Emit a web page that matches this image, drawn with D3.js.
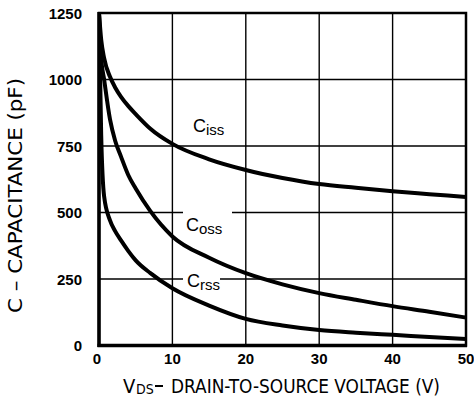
<!DOCTYPE html>
<html>
<head>
<meta charset="utf-8">
<script src="https://cdn.jsdelivr.net/npm/d3@7"></script>
<style>
  body { margin: 0; background: #fff; }
  svg { display: block; }
</style>
</head>
<body>
<svg width="474" height="397"></svg>
<script>
// values
const vds = [0, 0.3, 0.7, 1.5, 2.2, 3, 4, 5, 7, 10, 15, 20, 25, 30, 35, 40, 45, 50];
const ciss = [1250, 1150, 1080, 1010, 970, 935, 900, 870, 815, 758, 700, 660, 630, 607, 593, 580, 569, 558];
const coss = [1250, 1080, 1000, 850, 770, 710, 640, 590, 505, 410, 330, 272, 230, 197, 172, 148, 127, 105];
const crss = [1250, 790, 560, 470, 430, 395, 355, 320, 272, 215, 150, 100, 75, 58, 48, 40, 32, 24];
const xTicks = [0, 10, 20, 30, 40, 50];
const yTicks = [0, 250, 500, 750, 1000, 1250];

const svg = d3.select('svg');
const x0 = 99, x1 = 466, y0 = 345.5, y1 = 13;
const x = d3.scaleLinear().domain([0, 50]).range([x0, x1]);
const y = d3.scaleLinear().domain([0, 1250]).range([y0, y1]);
const font = 'Liberation Sans, Arial, sans-serif';
const narrow = '"Liberation Sans Narrow", "DejaVu Sans Condensed", sans-serif';

// grid
const grid = svg.append('g').attr('stroke', '#000').attr('stroke-width', 1.4);
xTicks.slice(1, -1).forEach(t => {
    grid.append('line').attr('x1', x(t)).attr('x2', x(t)).attr('y1', y1).attr('y2', y0);
});
yTicks.slice(1, -1).forEach(t => {
    grid.append('line').attr('x1', x0).attr('x2', x1).attr('y1', y(t)).attr('y2', y(t));
});

// tick labels
svg.append('g').selectAll('text').data(yTicks).join('text')
    .attr('x', 82).attr('y', d => y(d) + 5.5)
    .attr('text-anchor', 'end')
    .attr('font-family', font).attr('font-size', 15).attr('font-weight', 'bold')
    .text(d => d);
svg.append('g').selectAll('text').data(xTicks).join('text')
    .attr('x', d => x(d) - (d === 0 ? 2 : 0)).attr('y', 364)
    .attr('text-anchor', 'middle')
    .attr('font-family', font).attr('font-size', 15).attr('font-weight', 'bold')
    .text(d => d);

// curves
svg.append('clipPath').attr('id', 'plot').append('rect')
    .attr('x', x0).attr('y', y1).attr('width', x1 - x0).attr('height', y0 - y1);
const line = d3.line().x((d, i) => x(vds[i])).y(d => y(d)).curve(d3.curveMonotoneX);
[ciss, coss, crss].forEach(s => {
    svg.append('path').datum(s)
        .attr('d', line)
        .attr('fill', 'none').attr('stroke', '#000').attr('stroke-width', 4)
        .attr('clip-path', 'url(#plot)');
});

// curve labels, with gaps in the grid
svg.append('rect').attr('x', 183).attr('y', y(500) - 3).attr('width', 49).attr('height', 6).attr('fill', '#fff');
svg.append('rect').attr('x', 183).attr('y', y(250) - 3).attr('width', 37).attr('height', 6).attr('fill', '#fff');
const labels = [
    {sub: 'iss', x: 193, y: 132},
    {sub: 'oss', x: 186, y: 231},
    {sub: 'rss', x: 187, y: 287}
];
labels.forEach(l => {
    const t = svg.append('text').attr('x', l.x).attr('y', l.y)
        .attr('font-family', font).attr('font-size', 18);
    t.append('tspan').text('C');
    t.append('tspan').attr('dy', 3).attr('font-size', 15).text(l.sub);
});

// frame
svg.append('rect').attr('x', x0).attr('y', y1).attr('width', x1 - x0).attr('height', y0 - y1)
    .attr('fill', 'none').attr('stroke', '#000').attr('stroke-width', 2.5);
svg.append('line').attr('x1', x0).attr('x2', x0).attr('y1', y1 - 1).attr('y2', y0 + 1.5)
    .attr('stroke', '#000').attr('stroke-width', 3.5);
svg.append('line').attr('x1', x0 - 1.5).attr('x2', x1 + 1).attr('y1', y0).attr('y2', y0)
    .attr('stroke', '#000').attr('stroke-width', 3.5);

// axis titles
svg.append('text').attr('x', 123).attr('y', 393)
    .attr('font-family', narrow).attr('font-size', 20).text('V');
svg.append('text').attr('x', 136).attr('y', 394)
    .attr('font-family', narrow).attr('font-size', 14).text('DS');
svg.append('rect').attr('x', 155).attr('y', 385).attr('width', 8).attr('height', 2).attr('fill', '#000');
svg.append('text').attr('x', 171).attr('y', 393)
    .attr('font-family', narrow).attr('font-size', 20)
    .attr('textLength', 269).attr('lengthAdjust', 'spacingAndGlyphs')
    .text('DRAIN-TO-SOURCE VOLTAGE (V)');
svg.append('text')
    .attr('transform', 'translate(22,195.5) rotate(-90)')
    .attr('text-anchor', 'middle')
    .attr('font-family', narrow).attr('font-size', 19)
    .attr('textLength', 235).attr('lengthAdjust', 'spacingAndGlyphs')
    .text('C – CAPACITANCE (pF)');
</script>
</body>
</html>
